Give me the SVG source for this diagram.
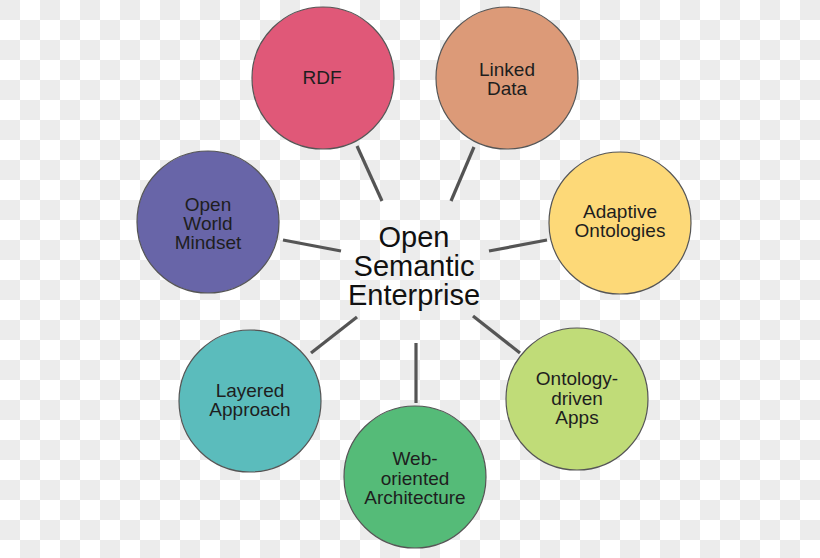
<svg xmlns="http://www.w3.org/2000/svg" width="820" height="558" viewBox="0 0 820 558">
<defs>
<pattern id="checker" width="40" height="40" patternUnits="userSpaceOnUse">
<rect width="40" height="40" fill="#ffffff"/>
<rect x="0" y="0" width="20" height="20" fill="#ececec"/>
<rect x="20" y="20" width="20" height="20" fill="#ececec"/>
</pattern>
</defs>
<style>
.node circle{stroke:#555;stroke-width:1.2}
.node text{font-family:"Liberation Sans",Arial,sans-serif;font-size:19px;fill:#1e1e1e;text-anchor:middle}
.center text{font-family:"Liberation Sans",Arial,sans-serif;font-size:29px;fill:#111;text-anchor:middle}
#connectors line{stroke:#555;stroke-width:3.2;stroke-linecap:butt}
</style>
<rect width="820" height="558" fill="url(#checker)"/>
<g id="connectors">
<line x1="357" y1="146" x2="382" y2="201"/>
<line x1="474" y1="147" x2="451" y2="201"/>
<line x1="283" y1="240" x2="341" y2="251"/>
<line x1="489" y1="251" x2="547" y2="240"/>
<line x1="357" y1="317" x2="311" y2="353"/>
<line x1="416" y1="343" x2="416" y2="403"/>
<line x1="473" y1="316" x2="520" y2="353"/>
</g>
<g id="node-center" class="center">
<text x="414" y="247">Open</text>
<text x="414" y="276">Semantic</text>
<text x="414" y="305">Enterprise</text>
</g>
<g id="node-rdf" class="node">
<circle cx="323" cy="78" r="71" fill="#e05878"/>
<text x="322" y="84">RDF</text>
</g>
<g id="node-linked-data" class="node">
<circle cx="507" cy="78" r="71" fill="#dc9a78"/>
<text x="507" y="76">Linked</text>
<text x="507" y="95">Data</text>
</g>
<g id="node-open-world" class="node">
<circle cx="208" cy="222" r="71" fill="#6865a8"/>
<text x="208" y="211">Open</text>
<text x="208" y="230">World</text>
<text x="208" y="249">Mindset</text>
</g>
<g id="node-adaptive" class="node">
<circle cx="620" cy="223" r="71" fill="#fdd978"/>
<text x="620" y="218">Adaptive</text>
<text x="620" y="237">Ontologies</text>
</g>
<g id="node-layered" class="node">
<circle cx="250" cy="401" r="71" fill="#5bbcbc"/>
<text x="250" y="397">Layered</text>
<text x="250" y="416">Approach</text>
</g>
<g id="node-web" class="node">
<circle cx="415" cy="477" r="71" fill="#55bb78"/>
<text x="415" y="465">Web-</text>
<text x="415" y="485">oriented</text>
<text x="415" y="504">Architecture</text>
</g>
<g id="node-ontology-apps" class="node">
<circle cx="577" cy="399" r="71" fill="#c0dc78"/>
<text x="577" y="385">Ontology-</text>
<text x="577" y="405">driven</text>
<text x="577" y="424">Apps</text>
</g>
</svg>
